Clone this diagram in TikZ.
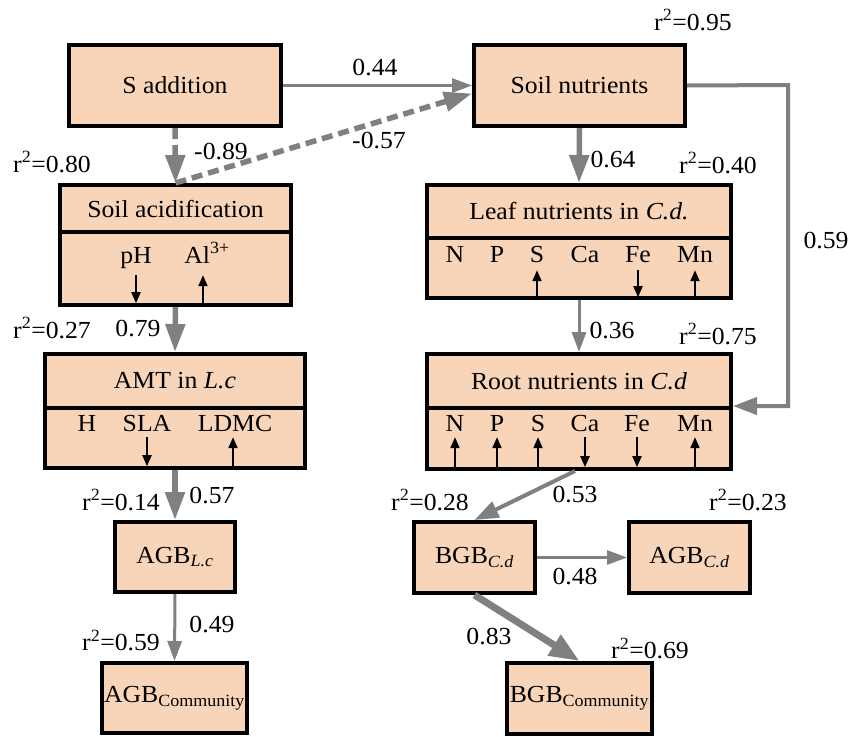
\documentclass[tikz,border=0pt]{standalone}
\usepackage{fontspec}
\setmainfont[FakeStretch=1.05]{Liberation Serif}
\usepackage{tikz}
\usetikzlibrary{arrows.meta}
\definecolor{peach}{HTML}{F8D5B9}
\definecolor{pathgray}{HTML}{808080}
\tikzset{
  box/.style={draw=black,line width=4pt,outer sep=2pt,fill=peach,inner sep=0pt,anchor=north west,align=center},
  item/.style={inner sep=2pt,text height=16pt,text depth=5pt},
  rlabel/.style={inner sep=1pt},
  wlabel/.style={inner sep=1pt},
  thinpath/.style={-{Triangle[length=20pt,width=14pt]},line width=3pt,pathgray},
  midpath/.style={-{Triangle[length=24pt,width=17pt]},line width=4pt,pathgray},
  thickpath/.style={-{Triangle[length=28pt,width=19pt]},line width=5.5pt,pathgray},
  heavypath/.style={-{Triangle[length=30pt,width=23pt]},line width=7pt,pathgray},
  negpath/.style={thickpath,dash pattern=on 11pt off 6pt},
  incr/.style={{Triangle[length=11pt,width=9pt]}-,line width=2pt,black},
  decr/.style={-{Triangle[length=11pt,width=9pt]},line width=2pt,black}
}

\begin{document}
\begin{tikzpicture}[x=1pt,y=-1pt,font=\fontsize{24.5}{28}\selectfont]
  \fill[white] (0,0) rectangle (850,736);
  \useasboundingbox (0,0) rectangle (850,736);

  % left column
  \node[box,minimum width=212pt,minimum height=81pt] (sadd) at (67,43) {S addition};
  \node[box,minimum width=231pt,minimum height=47pt] (acidhead) at (58,183) {Soil acidification};
  \node[box,minimum width=231pt,minimum height=73pt] (acidbody) at (58,230) {};
  \node[item] (ph) at (136,257.5) {pH};
  \node[item] (al) at (207,257.5) {Al\textsuperscript{3+}};
  \draw[decr] ([yshift=-5pt]ph.south) -- ++(0,28);
  \draw[incr] ([xshift=-4pt,yshift=-5pt]al.south) -- ++(0,28);

  \node[box,minimum width=260pt,minimum height=54pt] (amthead) at (43,352) {AMT in \textit{L.c}};
  \node[box,minimum width=260pt,minimum height=60pt] (amtbody) at (43,406) {};
  \node[item] (h) at (87,426) {H};
  \node[item] (sla) at (147,426) {SLA};
  \node[item] (ldmc) at (235,426) {LDMC};
  \draw[decr] ([yshift=1.5pt]sla.south) -- ++(0,29);
  \draw[incr] ([xshift=-2pt,yshift=1.5pt]ldmc.south) -- ++(0,29);

  \node[box,minimum width=120pt,minimum height=70pt] (agblc) at (113,520) {AGB\textsubscript{\textit{L.c}}};
  \node[box,minimum width=145pt,minimum height=70pt] (agbcomm) at (100,661) {AGB\textsubscript{Community}};

  % right column
  \node[box,minimum width=211pt,minimum height=81pt] (soilnut) at (472,43) {Soil nutrients};
  \node[box,minimum width=304pt,minimum height=53pt] (leafhead) at (425,183) {Leaf nutrients in \textit{C.d.}};
  \node[box,minimum width=304pt,minimum height=60pt] (leafbody) at (425,236) {};
  \foreach \el/\x [count=\i] in {N/455,P/497,S/537,Ca/585,Fe/638,Mn/695}
    \node[item] (leaf\i) at (\x,256.5) {\el};
  \foreach \i/\d in {3/incr,5/decr,6/incr}
    \draw[\d] ([yshift=-1pt]leaf\i.south) -- ++(0,27);

  \node[box,minimum width=304pt,minimum height=54pt] (roothead) at (425,352) {Root nutrients in \textit{C.d}};
  \node[box,minimum width=304pt,minimum height=61pt] (rootbody) at (425,406) {};
  \foreach \el/\x [count=\i] in {N/455,P/497,S/538,Ca/585,Fe/637,Mn/695}
    \node[item] (root\i) at (\x,426) {\el};
  \foreach \i/\d in {1/incr,2/incr,3/incr,4/decr,5/decr,6/incr}
    \draw[\d] ([yshift=1.5pt]root\i.south) -- ++(0,30);

  \node[box,minimum width=121pt,minimum height=71pt] (bgbcd) at (412,520) {BGB\textsubscript{\textit{C.d}}};
  \node[box,minimum width=121pt,minimum height=71pt] (agbcd) at (627,520) {AGB\textsubscript{\textit{C.d}}};
  \node[box,minimum width=145pt,minimum height=71pt] (bgbcomm) at (505,661) {BGB\textsubscript{Community}};

  % explained variance
  \node[rlabel] (r2acid) at (52,162) {r\textsuperscript{2}=0.80};
  \node[rlabel] (r2amt) at (52,328) {r\textsuperscript{2}=0.27};
  \node[rlabel] (r2agblc) at (121,500) {r\textsuperscript{2}=0.14};
  \node[rlabel] (r2agbcomm) at (121,640) {r\textsuperscript{2}=0.59};
  \node[rlabel] (r2soil) at (693,20) {r\textsuperscript{2}=0.95};
  \node[rlabel] (r2leaf) at (718,163) {r\textsuperscript{2}=0.40};
  \node[rlabel] (r2root) at (718,334) {r\textsuperscript{2}=0.75};
  \node[rlabel] (r2bgbcd) at (430,500) {r\textsuperscript{2}=0.28};
  \node[rlabel] (r2agbcd) at (748,500) {r\textsuperscript{2}=0.23};
  \node[rlabel] (r2bgbcomm) at (650,648) {r\textsuperscript{2}=0.69};

  % paths
  \draw[thinpath] (sadd.east) -- (soilnut.west);
  \draw[negpath] (sadd.south) -- (acidhead.north);
  \draw[negpath] (acidhead.north) -- ([yshift=-8pt]soilnut.west);
  \draw[thickpath] (acidbody.south) -- (amthead.north);
  \draw[thickpath] (amtbody.south) -- (agblc.north);
  \draw[thinpath] (agblc.south) -- (agbcomm.north);
  \draw[thickpath] (soilnut.south) -- (leafhead.north);
  \draw[thinpath] (leafbody.south) -- (roothead.north);
  \coordinate (bend) at (788,85);
  \draw[midpath] (soilnut.east) -- (bend) |- (rootbody.north east);
  \draw[midpath] ([xshift=-4pt]rootbody.south) -- (bgbcd.north);
  \draw[thinpath] (bgbcd.east) -- (agbcd.west);
  \draw[heavypath] (bgbcd.south) -- (bgbcomm.north);

  % path coefficients
  \node[wlabel] (w044) at (375,68) {0.44};
  \node[wlabel] (w057) at (379,141) {-0.57};
  \node[wlabel] (w089) at (221,152) {-0.89};
  \node[wlabel] (w079) at (138,329) {0.79};
  \node[wlabel] (w057b) at (212,496) {0.57};
  \node[wlabel] (w049) at (212,625) {0.49};
  \node[wlabel] (w064) at (613,160) {0.64};
  \node[wlabel] (w059) at (826,241) {0.59};
  \node[wlabel] (w036) at (612,331) {0.36};
  \node[wlabel] (w053) at (575,495) {0.53};
  \node[wlabel] (w048) at (575,577) {0.48};
  \node[wlabel] (w083) at (489,637) {0.83};
\end{tikzpicture}
\end{document}
